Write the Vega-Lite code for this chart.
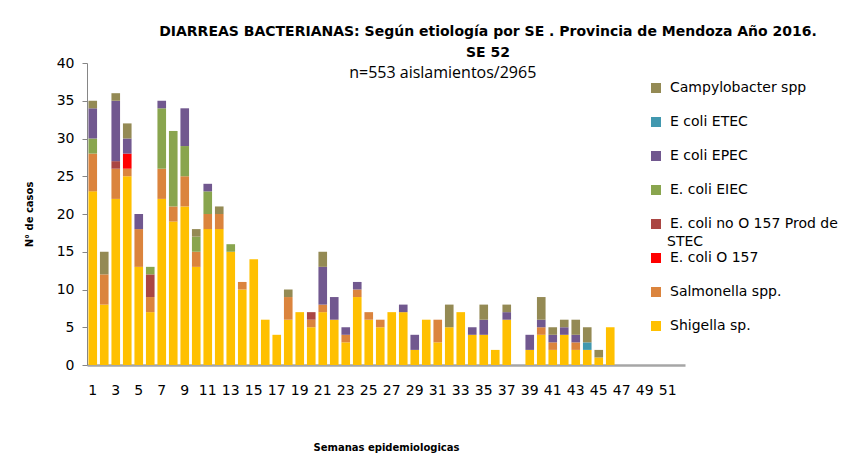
{
  "$schema": "https://vega.github.io/schema/vega-lite/v6.json",
  "autosize": {"type": "none"},
  "width": 598,
  "height": 302,
  "padding": {"left": 87, "top": 63, "right": 176, "bottom": 91},
  "background": "white",
  "title": {
    "text": ["DIARREAS BACTERIANAS: Según etiología por SE . Provincia de Mendoza Año 2016.", "SE 52"],
    "anchor": "middle",
    "dx": 102,
    "offset": -4,
    "font": "DejaVu Sans",
    "fontSize": 14,
    "fontWeight": "bold",
    "lineHeight": 21,
    "color": "#000000"
  },
  "config": {
    "view": {"stroke": null},
    "font": "DejaVu Sans"
  },
  "layer": [
    {
      "data": {
        "values": [
          {"se":1,"agente":"Shigella sp.","casos":23},{"se":1,"agente":"Salmonella spp.","casos":5},{"se":1,"agente":"E. coli EIEC","casos":2},{"se":1,"agente":"E coli EPEC","casos":4},{"se":1,"agente":"Campylobacter spp","casos":1},
          {"se":2,"agente":"Shigella sp.","casos":8},{"se":2,"agente":"Salmonella spp.","casos":4},{"se":2,"agente":"Campylobacter spp","casos":3},
          {"se":3,"agente":"Shigella sp.","casos":22},{"se":3,"agente":"Salmonella spp.","casos":4},{"se":3,"agente":"E. coli no O 157 Prod de STEC","casos":1},{"se":3,"agente":"E coli EPEC","casos":8},{"se":3,"agente":"Campylobacter spp","casos":1},
          {"se":4,"agente":"Shigella sp.","casos":25},{"se":4,"agente":"Salmonella spp.","casos":1},{"se":4,"agente":"E. coli O 157","casos":2},{"se":4,"agente":"E coli EPEC","casos":2},{"se":4,"agente":"Campylobacter spp","casos":2},
          {"se":5,"agente":"Shigella sp.","casos":13},{"se":5,"agente":"Salmonella spp.","casos":5},{"se":5,"agente":"E coli EPEC","casos":2},
          {"se":6,"agente":"Shigella sp.","casos":7},{"se":6,"agente":"Salmonella spp.","casos":2},{"se":6,"agente":"E. coli no O 157 Prod de STEC","casos":3},{"se":6,"agente":"E. coli EIEC","casos":1},
          {"se":7,"agente":"Shigella sp.","casos":22},{"se":7,"agente":"Salmonella spp.","casos":4},{"se":7,"agente":"E. coli EIEC","casos":8},{"se":7,"agente":"E coli EPEC","casos":1},
          {"se":8,"agente":"Shigella sp.","casos":19},{"se":8,"agente":"Salmonella spp.","casos":2},{"se":8,"agente":"E. coli EIEC","casos":10},
          {"se":9,"agente":"Shigella sp.","casos":21},{"se":9,"agente":"Salmonella spp.","casos":4},{"se":9,"agente":"E. coli EIEC","casos":4},{"se":9,"agente":"E coli EPEC","casos":5},
          {"se":10,"agente":"Shigella sp.","casos":13},{"se":10,"agente":"Salmonella spp.","casos":2},{"se":10,"agente":"E. coli EIEC","casos":2},{"se":10,"agente":"Campylobacter spp","casos":1},
          {"se":11,"agente":"Shigella sp.","casos":18},{"se":11,"agente":"Salmonella spp.","casos":2},{"se":11,"agente":"E. coli EIEC","casos":3},{"se":11,"agente":"E coli EPEC","casos":1},
          {"se":12,"agente":"Shigella sp.","casos":18},{"se":12,"agente":"Salmonella spp.","casos":2},{"se":12,"agente":"Campylobacter spp","casos":1},
          {"se":13,"agente":"Shigella sp.","casos":15},{"se":13,"agente":"E. coli EIEC","casos":1},
          {"se":14,"agente":"Shigella sp.","casos":10},{"se":14,"agente":"Salmonella spp.","casos":1},
          {"se":15,"agente":"Shigella sp.","casos":14},
          {"se":16,"agente":"Shigella sp.","casos":6},
          {"se":17,"agente":"Shigella sp.","casos":4},
          {"se":18,"agente":"Shigella sp.","casos":6},{"se":18,"agente":"Salmonella spp.","casos":3},{"se":18,"agente":"Campylobacter spp","casos":1},
          {"se":19,"agente":"Shigella sp.","casos":7},
          {"se":20,"agente":"Shigella sp.","casos":5},{"se":20,"agente":"Salmonella spp.","casos":1},{"se":20,"agente":"E. coli no O 157 Prod de STEC","casos":1},
          {"se":21,"agente":"Shigella sp.","casos":7},{"se":21,"agente":"Salmonella spp.","casos":1},{"se":21,"agente":"E coli EPEC","casos":5},{"se":21,"agente":"Campylobacter spp","casos":2},
          {"se":22,"agente":"Shigella sp.","casos":6},{"se":22,"agente":"E coli EPEC","casos":3},
          {"se":23,"agente":"Shigella sp.","casos":3},{"se":23,"agente":"Salmonella spp.","casos":1},{"se":23,"agente":"E coli EPEC","casos":1},
          {"se":24,"agente":"Shigella sp.","casos":9},{"se":24,"agente":"Salmonella spp.","casos":1},{"se":24,"agente":"E coli EPEC","casos":1},
          {"se":25,"agente":"Shigella sp.","casos":6},{"se":25,"agente":"Salmonella spp.","casos":1},
          {"se":26,"agente":"Shigella sp.","casos":5},{"se":26,"agente":"Salmonella spp.","casos":1},
          {"se":27,"agente":"Shigella sp.","casos":7},
          {"se":28,"agente":"Shigella sp.","casos":7},{"se":28,"agente":"E coli EPEC","casos":1},
          {"se":29,"agente":"Shigella sp.","casos":2},{"se":29,"agente":"E coli EPEC","casos":2},
          {"se":30,"agente":"Shigella sp.","casos":6},
          {"se":31,"agente":"Shigella sp.","casos":3},{"se":31,"agente":"Salmonella spp.","casos":3},
          {"se":32,"agente":"Shigella sp.","casos":5},{"se":32,"agente":"Campylobacter spp","casos":3},
          {"se":33,"agente":"Shigella sp.","casos":7},
          {"se":34,"agente":"Shigella sp.","casos":4},{"se":34,"agente":"E coli EPEC","casos":1},
          {"se":35,"agente":"Shigella sp.","casos":4},{"se":35,"agente":"E coli EPEC","casos":2},{"se":35,"agente":"Campylobacter spp","casos":2},
          {"se":36,"agente":"Shigella sp.","casos":2},
          {"se":37,"agente":"Shigella sp.","casos":6},{"se":37,"agente":"E coli EPEC","casos":1},{"se":37,"agente":"Campylobacter spp","casos":1},
          {"se":39,"agente":"Shigella sp.","casos":2},{"se":39,"agente":"E coli EPEC","casos":2},
          {"se":40,"agente":"Shigella sp.","casos":4},{"se":40,"agente":"Salmonella spp.","casos":1},{"se":40,"agente":"E coli EPEC","casos":1},{"se":40,"agente":"Campylobacter spp","casos":3},
          {"se":41,"agente":"Shigella sp.","casos":2},{"se":41,"agente":"Salmonella spp.","casos":1},{"se":41,"agente":"E coli EPEC","casos":1},{"se":41,"agente":"Campylobacter spp","casos":1},
          {"se":42,"agente":"Shigella sp.","casos":4},{"se":42,"agente":"E coli EPEC","casos":1},{"se":42,"agente":"Campylobacter spp","casos":1},
          {"se":43,"agente":"Shigella sp.","casos":2},{"se":43,"agente":"Salmonella spp.","casos":1},{"se":43,"agente":"E coli EPEC","casos":1},{"se":43,"agente":"Campylobacter spp","casos":2},
          {"se":44,"agente":"Shigella sp.","casos":2},{"se":44,"agente":"E coli ETEC","casos":1},{"se":44,"agente":"Campylobacter spp","casos":2},
          {"se":45,"agente":"Shigella sp.","casos":1},{"se":45,"agente":"Campylobacter spp","casos":1},
          {"se":46,"agente":"Shigella sp.","casos":5}
        ]
      },
      "mark": {"type": "bar"},
      "encoding": {
        "x": {
          "field": "se",
          "type": "ordinal",
          "scale": {
            "domain": [1,2,3,4,5,6,7,8,9,10,11,12,13,14,15,16,17,18,19,20,21,22,23,24,25,26,27,28,29,30,31,32,33,34,35,36,37,38,39,40,41,42,43,44,45,46,47,48,49,50,51,52],
            "paddingInner": 0.25,
            "paddingOuter": 0.125
          },
          "axis": {
            "title": "Semanas epidemiologicas",
            "titleFont": "DejaVu Sans",
            "titleFontSize": 10,
            "titleFontWeight": "bold",
            "titleColor": "#000000",
            "titlePadding": 45,
            "values": [1,3,5,7,9,11,13,15,17,19,21,23,25,27,29,31,33,35,37,39,41,43,45,47,49,51],
            "labelOverlap": false,
            "labelAngle": 0,
            "labelFont": "DejaVu Sans",
            "labelFontSize": 14,
            "labelColor": "#000000",
            "labelPadding": 18,
            "ticks": false,
            "domainColor": "#A6A6A6",
            "domainWidth": 2.5
          }
        },
        "y": {
          "field": "casos",
          "type": "quantitative",
          "aggregate": "sum",
          "stack": "zero",
          "scale": {"domain": [0, 40], "nice": false},
          "axis": {
            "title": "N° de casos",
            "titleFont": "DejaVu Sans",
            "titleFontSize": 10,
            "titleFontWeight": "bold",
            "titleColor": "#000000",
            "titlePadding": 22,
            "values": [0,5,10,15,20,25,30,35,40],
            "labelOverlap": false,
            "labelFont": "DejaVu Sans",
            "labelFontSize": 14,
            "labelColor": "#000000",
            "labelPadding": 8,
            "grid": false,
            "tickSize": 5,
            "tickColor": "#868686",
            "domainColor": "#868686"
          }
        },
        "color": {
          "field": "agente",
          "type": "nominal",
          "scale": {
            "domain": ["Campylobacter spp","E coli ETEC","E coli EPEC","E. coli EIEC","E. coli no O 157 Prod de STEC","E. coli O 157","Salmonella spp.","Shigella sp."],
            "range": ["#948A54","#4198AF","#71588F","#89A54E","#AA4643","#FF0000","#DB843D","#FFC000"]
          },
          "legend": {
            "title": null,
            "orient": "none",
            "legendX": 562,
            "legendY": 18,
            "symbolType": "square",
            "symbolSize": 100,
            "symbolStrokeWidth": 0,
            "labelFont": "DejaVu Sans",
            "labelFontSize": 14,
            "labelColor": "#000000",
            "labelOffset": 7,
            "labelLimit": 300,
            "rowPadding": 20,
            "clipHeight": 14,
            "labelExpr": "datum.label == 'E. coli no O 157 Prod de STEC' ? 'E. coli no O 157 Prod de' : datum.label"
          }
        },
        "opacity": {
          "datum": "STEC",
          "type": "nominal",
          "scale": {"range": [1]},
          "legend": {
            "title": null,
            "orient": "none",
            "legendX": 566,
            "legendY": 172,
            "symbolOpacity": 0,
            "symbolSize": 0,
            "symbolStrokeWidth": 0,
            "labelFont": "DejaVu Sans",
            "labelFontSize": 14,
            "labelColor": "#000000",
            "labelOffset": 0
          }
        },
        "order": {"field": "agente", "sort": "descending"}
      }
    },
    {
      "data": {"values": [{"nota": "n=553 aislamientos/2965"}]},
      "mark": {"type": "text", "font": "Open Sans", "fontSize": 16, "color": "#000000", "dx": 5, "dy": 2},
      "encoding": {
        "x": {
          "datum": 31,
          "type": "ordinal",
          "axis": {
            "title": "Semanas epidemiologicas",
            "titleFont": "DejaVu Sans",
            "titleFontSize": 10,
            "titleFontWeight": "bold",
            "titleColor": "#000000",
            "titlePadding": 45,
            "values": [1,3,5,7,9,11,13,15,17,19,21,23,25,27,29,31,33,35,37,39,41,43,45,47,49,51],
            "labelOverlap": false,
            "labelAngle": 0,
            "labelFont": "DejaVu Sans",
            "labelFontSize": 14,
            "labelColor": "#000000",
            "labelPadding": 18,
            "ticks": false,
            "domainColor": "#A6A6A6",
            "domainWidth": 2.5
          }
        },
        "y": {
          "datum": 38.9,
          "type": "quantitative",
          "axis": {
            "title": "N° de casos",
            "titleFont": "DejaVu Sans",
            "titleFontSize": 10,
            "titleFontWeight": "bold",
            "titleColor": "#000000",
            "titlePadding": 22,
            "values": [0,5,10,15,20,25,30,35,40],
            "labelOverlap": false,
            "labelFont": "DejaVu Sans",
            "labelFontSize": 14,
            "labelColor": "#000000",
            "labelPadding": 8,
            "grid": false,
            "tickSize": 5,
            "tickColor": "#868686",
            "domainColor": "#868686"
          }
        },
        "text": {"field": "nota", "type": "nominal"}
      }
    }
  ]
}
